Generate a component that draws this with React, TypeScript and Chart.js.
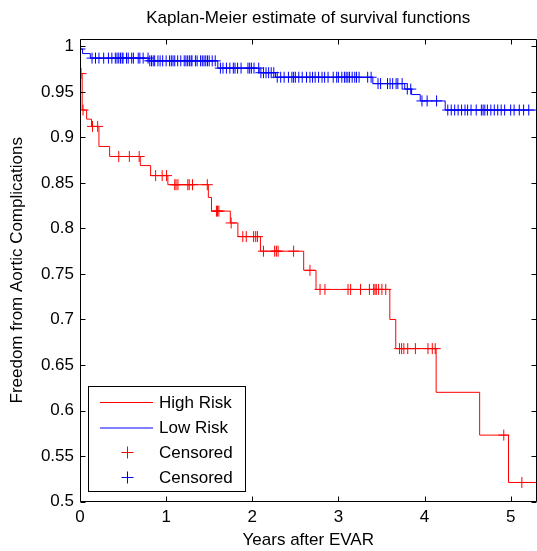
import React, { useEffect, useRef } from "react";
import { Chart, registerables } from "chart.js";

Chart.register(...registerables);

const TITLE = "Kaplan-Meier estimate of survival functions";
const X_TITLE = "Years after EVAR";
const Y_TITLE = "Freedom from Aortic Complications";

const xTickValues = [0, 1, 2, 3, 4, 5];
const yTickValues = [0.5, 0.55, 0.6, 0.65, 0.7, 0.75, 0.8, 0.85, 0.9, 0.95, 1];
const yTickLabels = ["0.5", "0.55", "0.6", "0.65", "0.7", "0.75", "0.8", "0.85", "0.9", "0.95", "1"];
const legendLabels = ["High Risk", "Low Risk", "Censored", "Censored"];

// High risk Kaplan-Meier steps (time, survival after that time)
const highRiskTimes = [0, 0.025, 0.077, 0.134, 0.22, 0.344, 0.7, 0.82, 1.02, 1.49, 1.527, 1.745, 1.833, 2.095, 2.597, 2.74, 3.597, 3.666, 4.135, 4.64, 4.975, 5.3];
const highRiskSurvival = [0.97, 0.93, 0.92, 0.912, 0.89, 0.879, 0.869, 0.858, 0.848, 0.834, 0.819, 0.806, 0.791, 0.775, 0.754, 0.733, 0.7, 0.668, 0.62, 0.573, 0.521, 0.521];
const highRiskCensored = [0.012, 0.035, 0.145, 0.205, 0.45, 0.573, 0.687, 0.878, 0.954, 1.005, 1.1, 1.115, 1.137, 1.252, 1.268, 1.306, 1.478, 1.584, 1.596, 1.612, 1.755, 1.89, 1.93, 2.016, 2.04, 2.06, 2.13, 2.26, 2.28, 2.3, 2.48, 2.67, 2.787, 2.844, 3.112, 3.142, 3.257, 3.36, 3.41, 3.425, 3.44, 3.467, 3.505, 3.55, 3.71, 3.734, 3.76, 3.805, 3.894, 4.04, 4.09, 4.124, 4.92, 5.13];

// Low risk Kaplan-Meier steps
const lowRiskTimes = [0, 0.03, 0.12, 0.8, 1.6, 2.08, 2.27, 3.4, 3.77, 3.85, 3.95, 4.24, 5.3];
const lowRiskSurvival = [0.997, 0.992, 0.987, 0.984, 0.976, 0.971, 0.966, 0.959, 0.953, 0.947, 0.94, 0.93, 0.93];
const lowRiskCensored = [0, 0.14, 0.18, 0.22, 0.275, 0.33, 0.37, 0.41, 0.43, 0.45, 0.47, 0.49, 0.5, 0.54, 0.56, 0.6, 0.62, 0.676, 0.695, 0.733, 0.79, 0.81, 0.83, 0.85, 0.867, 0.905, 0.93, 0.96, 1.0, 1.04, 1.06, 1.08, 1.1, 1.134, 1.17, 1.21, 1.23, 1.25, 1.27, 1.29, 1.3, 1.34, 1.36, 1.4, 1.42, 1.44, 1.46, 1.48, 1.5, 1.535, 1.57, 1.63, 1.66, 1.7, 1.74, 1.78, 1.8, 1.83, 1.87, 1.95, 1.97, 1.99, 2.02, 2.075, 2.1, 2.13, 2.16, 2.19, 2.22, 2.25, 2.29, 2.33, 2.37, 2.42, 2.46, 2.48, 2.5, 2.54, 2.58, 2.63, 2.67, 2.7, 2.73, 2.77, 2.81, 2.84, 2.88, 2.94, 2.98, 3.0, 3.04, 3.07, 3.09, 3.11, 3.13, 3.16, 3.19, 3.21, 3.24, 3.34, 3.38, 3.46, 3.49, 3.57, 3.6, 3.63, 3.67, 3.69, 3.74, 3.8, 3.84, 3.97, 4.03, 4.14, 4.27, 4.31, 4.35, 4.39, 4.43, 4.47, 4.5, 4.54, 4.6, 4.66, 4.68, 4.7, 4.73, 4.77, 4.81, 4.85, 4.89, 4.93, 5.0, 5.04, 5.1, 5.15, 5.21];

const RED = "#ff0000";
const BLUE = "#0000ff";
const FONT = "'Liberation Sans', Arial, Helvetica, sans-serif";
const FS = 17;

function survivalAt(times: number[], surv: number[], t: number): number {
  let v = surv[0];
  for (let i = 0; i < times.length; i++) {
    if (times[i] <= t) v = surv[i];
  }
  return v;
}

const frameLegendPlugin = {
  id: "matlabFrame",
  afterDraw(chart: any) {
    const { ctx, chartArea } = chart;
    const { left, right, top, bottom } = chartArea;
    const xs = chart.scales.x;
    const ys = chart.scales.y;
    ctx.save();

    // title, centred over the axes
    ctx.fillStyle = "#000";
    ctx.font = `${FS}px ${FONT}`;
    ctx.textAlign = "center";
    ctx.textBaseline = "middle";
    ctx.fillText(TITLE, (left + right) / 2, 18);

    ctx.strokeStyle = "#000";
    ctx.lineWidth = 1;
    const L = Math.round(left) + 0.5;
    const R = Math.round(right) - 0.5;
    const T = Math.round(top) + 0.5;
    const B = Math.round(bottom) - 0.5;
    ctx.beginPath();
    ctx.moveTo(L, T);
    ctx.lineTo(R, T);
    ctx.lineTo(R, B);
    ctx.lineTo(L, B);
    ctx.closePath();
    ctx.stroke();
    const tl = 5;
    ctx.beginPath();
    xTickValues.forEach((v) => {
      const px = Math.round(xs.getPixelForValue(v)) + 0.5;
      ctx.moveTo(px, B);
      ctx.lineTo(px, B - tl);
      ctx.moveTo(px, T);
      ctx.lineTo(px, T + tl);
    });
    yTickValues.forEach((v) => {
      const py = Math.round(ys.getPixelForValue(v)) + 0.5;
      ctx.moveTo(L, py);
      ctx.lineTo(L + tl, py);
      ctx.moveTo(R, py);
      ctx.lineTo(R - tl, py);
    });
    ctx.stroke();

    // legend box
    const bx = 88.5, by = 386.5, bw = 157, bh = 105;
    ctx.fillStyle = "#fff";
    ctx.fillRect(bx, by, bw, bh);
    ctx.strokeStyle = "#000";
    ctx.strokeRect(bx, by, bw, bh);
    const rows = [402, 427.5, 452, 477];
    const colors = [RED, BLUE, RED, BLUE];
    ctx.font = `${FS}px ${FONT}`;
    ctx.textBaseline = "middle";
    ctx.textAlign = "left";
    rows.forEach((ry, i) => {
      ctx.strokeStyle = colors[i];
      ctx.lineWidth = 1;
      ctx.beginPath();
      if (i < 2) {
        ctx.moveTo(100, ry + 0.5);
        ctx.lineTo(153, ry + 0.5);
      } else {
        ctx.moveTo(121.5, ry + 0.5);
        ctx.lineTo(133.5, ry + 0.5);
        ctx.moveTo(127.5, ry - 5.5);
        ctx.lineTo(127.5, ry + 6.5);
      }
      ctx.stroke();
      ctx.fillStyle = "#000";
      ctx.fillText(legendLabels[i], 159, ry + 1);
    });
    ctx.restore();
  },
};

export default function App() {
  const canvasRef = useRef<HTMLCanvasElement | null>(null);

  useEffect(() => {
    document.body.style.margin = "0";
    const canvas = canvasRef.current;
    if (!canvas) return;
    const highLine = highRiskTimes.map((t, i) => ({ x: t, y: highRiskSurvival[i] }));
    const lowLine = lowRiskTimes.map((t, i) => ({ x: t, y: lowRiskSurvival[i] }));
    const highCens = highRiskCensored.map((t) => ({ x: t, y: survivalAt(highRiskTimes, highRiskSurvival, t) }));
    const lowCens = lowRiskCensored.map((t) => ({ x: t, y: survivalAt(lowRiskTimes, lowRiskSurvival, t) }));

    const chart = new Chart(canvas, {
      type: "scatter",
      data: {
        datasets: [
          {
            label: legendLabels[0],
            data: highLine,
            showLine: true,
            stepped: "before",
            borderColor: RED,
            borderWidth: 1,
            pointRadius: 0,
            fill: false,
          },
          {
            label: legendLabels[1],
            data: lowLine,
            showLine: true,
            stepped: "before",
            borderColor: BLUE,
            borderWidth: 1,
            pointRadius: 0,
            fill: false,
          },
          {
            label: legendLabels[2],
            data: highCens,
            showLine: false,
            pointStyle: "cross",
            pointRadius: 5.5,
            pointBorderColor: RED,
            pointBorderWidth: 1,
            borderColor: RED,
          },
          {
            label: legendLabels[3],
            data: lowCens,
            showLine: false,
            pointStyle: "cross",
            pointRadius: 5.5,
            pointBorderColor: BLUE,
            pointBorderWidth: 1,
            borderColor: BLUE,
          },
        ],
      },
      options: {
        responsive: false,
        animation: false,
        devicePixelRatio: 1,
        layout: { padding: { top: 39, left: 0, right: 0, bottom: 0 } },
        events: [],
        plugins: {
          legend: { display: false },
          tooltip: { enabled: false },
          title: { display: false },
        },
        scales: {
          x: {
            type: "linear",
            min: 0,
            max: 5.3,
            afterBuildTicks: (scale: any) => {
              scale.ticks = xTickValues.map((value) => ({ value }));
            },
            afterFit: (scale: any) => {
              scale.height = 49.4;
            },
            grid: { display: false, drawTicks: false },
            border: { display: false },
            ticks: {
              color: "#000",
              font: { family: FONT, size: FS },
              padding: 6,
              maxRotation: 0,
              autoSkip: false,
              callback: (value: any) => String(value),
            },
            title: {
              display: true,
              text: X_TITLE,
              color: "#000",
              font: { family: FONT, size: FS },
              padding: { top: 0, bottom: 0 },
            },
          },
          y: {
            type: "linear",
            min: 0.5,
            max: 1.008,
            afterBuildTicks: (scale: any) => {
              scale.ticks = yTickValues.map((value) => ({ value }));
            },
            afterFit: (scale: any) => {
              scale.width = 80;
            },
            grid: { display: false, drawTicks: false },
            border: { display: false },
            ticks: {
              color: "#000",
              font: { family: FONT, size: FS },
              padding: 6,
              autoSkip: false,
              callback: (_v: any, index: number) => yTickLabels[index],
            },
            title: {
              display: true,
              text: Y_TITLE,
              color: "#000",
              font: { family: FONT, size: FS },
              padding: { top: 7, bottom: 0 },
            },
          },
        },
      },
      plugins: [frameLegendPlugin],
    });
    return () => {
      chart.destroy();
    };
  }, []);

  return (
    <div style={{ position: "fixed", left: 0, top: 0, width: 537, height: 551, overflow: "hidden", background: "#fff" }}>
      <canvas ref={canvasRef} width={543} height={551} style={{ display: "block", width: 543, height: 551 }} />
    </div>
  );
}
